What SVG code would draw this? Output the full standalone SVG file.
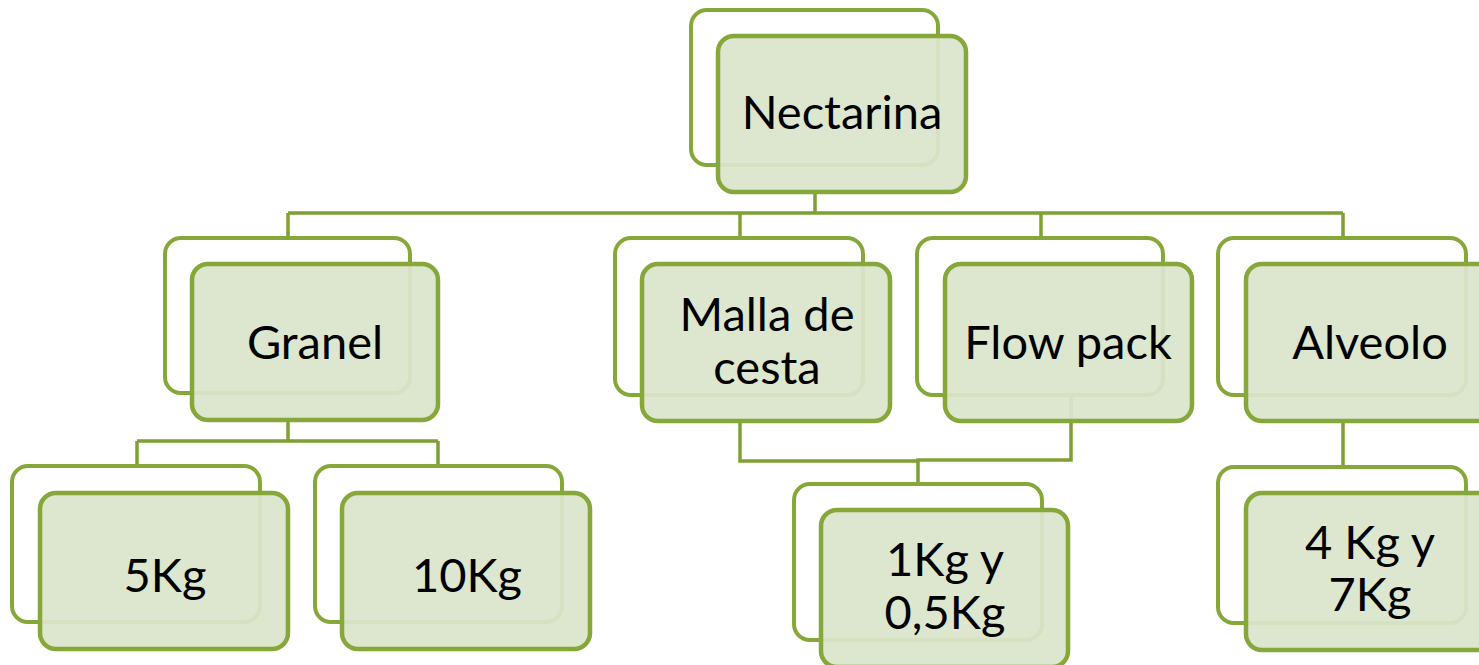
<svg xmlns="http://www.w3.org/2000/svg" width="1479" height="665" viewBox="0 0 1479 665">
<style>
.back{fill:#ffffff;stroke:#86a83a;stroke-width:4}
.front{fill:#dbe4cb;fill-opacity:0.94;stroke:#86a83a;stroke-width:4.5}
.lbl{font-family:Lato,"Open Sans",sans-serif;font-size:47px;fill:#000;text-anchor:middle}
.conn{fill:none;stroke:#7fa032;stroke-width:3.5}
</style>
<rect width="1479" height="665" fill="#ffffff"/>
<g id="connectors">
<path class="conn" d="M815 193V213M288 213H1343M288 213V238M740 213V238M1041 213V238M1343 213V238"/>
<path class="conn" d="M288 420V441M137 441H438M137 441V466M438 441V466"/>
<path class="conn" d="M740 422V461H918"/>
<path class="conn" d="M1071 397V460H918V484" stroke-width="5"/>
<path class="conn" d="M1343 420V467"/>
</g>
<g id="n-nectarina">
<rect class="back" x="691" y="10" width="247" height="155" rx="16"/>
<rect class="front" x="718" y="36" width="248" height="156" rx="16"/>
<text class="lbl" x="842" y="129">Nectarina</text>
</g>
<g id="n-granel">
<rect class="back" x="165" y="238" width="245" height="155" rx="16"/>
<rect class="front" x="192" y="264" width="246" height="156" rx="16"/>
<text class="lbl" x="315" y="359">Granel</text>
</g>
<g id="n-malla">
<rect class="back" x="615" y="238" width="248" height="157" rx="16"/>
<rect class="front" x="642" y="264" width="248" height="157" rx="16"/>
<text class="lbl" x="767" y="331">Malla de</text>
<text class="lbl" x="767" y="384">cesta</text>
</g>
<g id="n-flowpack">
<rect class="back" x="917" y="238" width="246" height="157" rx="16"/>
<rect class="front" x="945" y="264" width="247" height="157" rx="16"/>
<text class="lbl" x="1068" y="359">Flow pack</text>
</g>
<g id="n-alveolo">
<rect class="back" x="1218" y="238" width="248" height="157" rx="16"/>
<rect class="front" x="1246" y="264" width="248" height="157" rx="16"/>
<text class="lbl" x="1370" y="359">Alveolo</text>
</g>
<g id="n-5kg">
<rect class="back" x="12" y="466" width="248" height="156" rx="16"/>
<rect class="front" x="40" y="493" width="248" height="156" rx="16"/>
<text class="lbl" x="165" y="592">5Kg</text>
</g>
<g id="n-10kg">
<rect class="back" x="315" y="466" width="247" height="156" rx="16"/>
<rect class="front" x="342" y="493" width="248" height="156" rx="16"/>
<text class="lbl" x="467" y="592">10Kg</text>
</g>
<g id="n-1kg">
<rect class="back" x="794" y="484" width="248" height="156" rx="16"/>
<rect class="front" x="821" y="510" width="247" height="157" rx="16"/>
<text class="lbl" x="945" y="576">1Kg y</text>
<text class="lbl" x="945" y="629">0,5Kg</text>
</g>
<g id="n-4kg">
<rect class="back" x="1218" y="467" width="248" height="156" rx="16"/>
<rect class="front" x="1246" y="493" width="248" height="157" rx="16"/>
<text class="lbl" x="1370" y="559">4 Kg y</text>
<text class="lbl" x="1370" y="611">7Kg</text>
</g>
</svg>
